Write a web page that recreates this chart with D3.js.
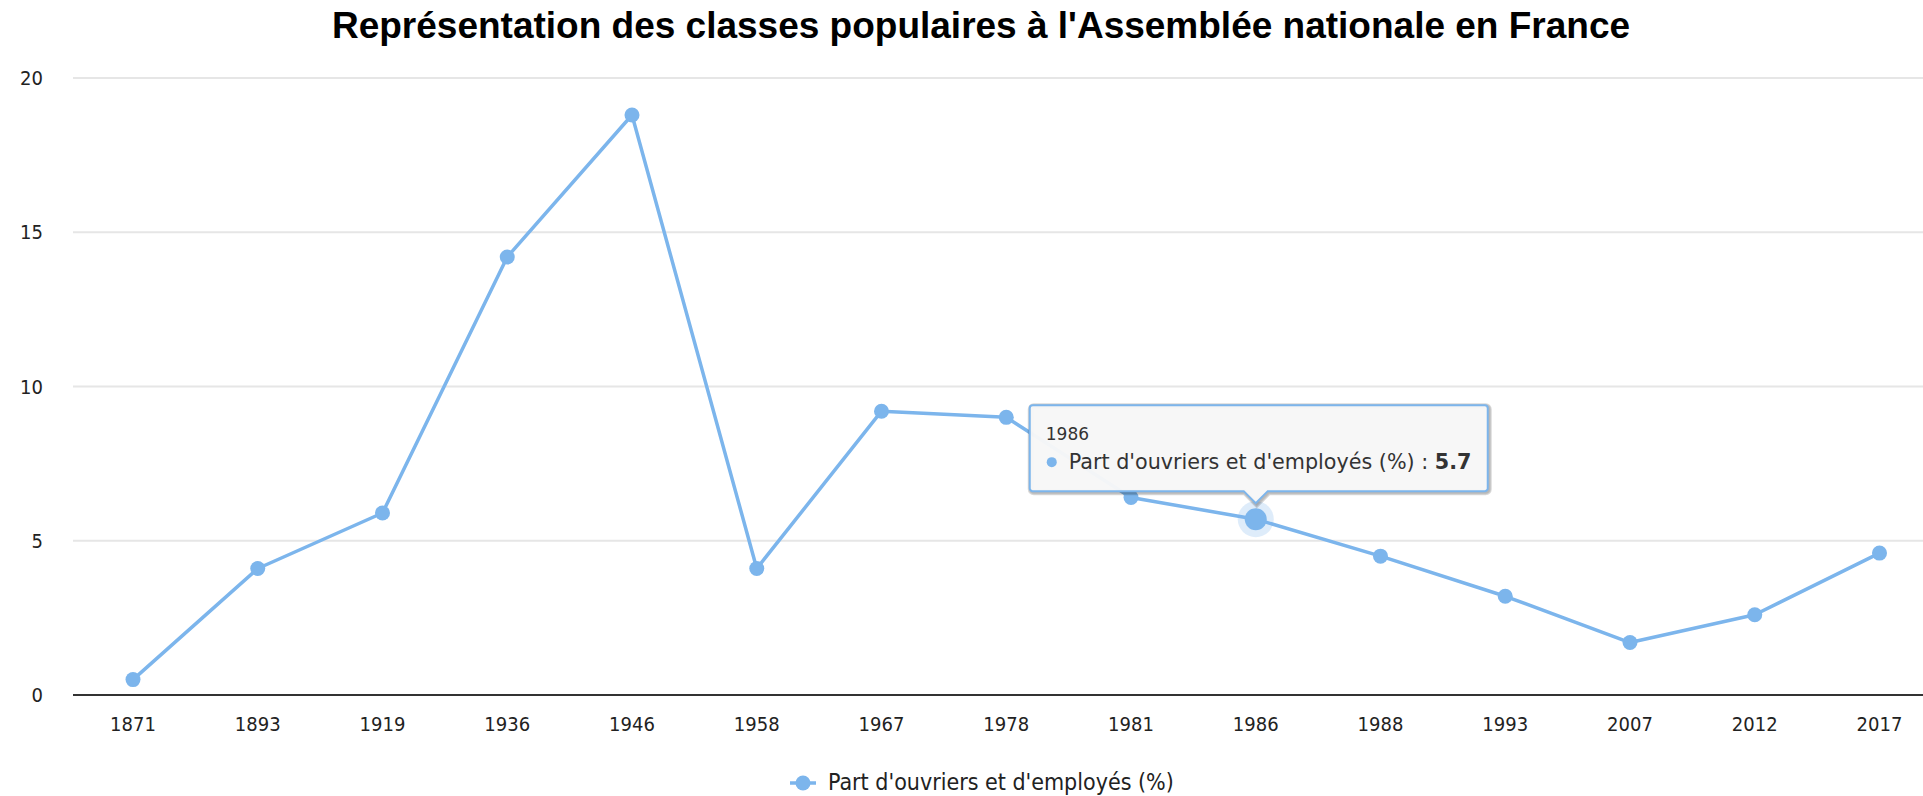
<!DOCTYPE html>
<html>
<head>
<meta charset="utf-8">
<script src="https://cdn.jsdelivr.net/npm/d3@7"></script>
<style>
  html, body { margin: 0; padding: 0; background: #fff; }
  svg { display: block; }
  .tick-label { font-family: "DejaVu Sans Condensed", "DejaVu Sans", sans-serif; fill: #222; }
</style>
</head>
<body>
<svg id="chart" width="1923" height="796"></svg>
<script>
"use strict";

var title = "Représentation des classes populaires à l'Assemblée nationale en France";
var seriesName = "Part d'ouvriers et d'employés (%)";
var years = ["1871","1893","1919","1936","1946","1958","1967","1978","1981","1986","1988","1993","2007","2012","2017"];
var shares = [0.5, 4.1, 5.9, 14.2, 18.8, 4.1, 9.2, 9.0, 6.4, 5.7, 4.5, 3.2, 1.7, 2.6, 4.6];
var yTicks = [0, 5, 10, 15, 20];
var hoverYear = "1986";

var W = 1923, H = 796;
var color = "#7cb5ec";
var plotLeft = 73, plotBottom = 695, plotTop = 78;

var svg = d3.select('#chart');

var x = d3.scalePoint()
	.domain(years)
	.range([133, 1879.5]);
var y = d3.scaleLinear()
	.domain([0, 20])
	.range([plotBottom, plotTop]);

// title
svg.append('text')
	.attr('x', 981)
	.attr('y', 38)
	.attr('text-anchor', 'middle')
	.style('font-family', '"Liberation Sans", Arial, sans-serif')
	.style('font-weight', 'bold')
	.style('font-size', '37px')
	.attr('fill', '#000')
	.text(title);

// grid
svg.append('g').selectAll('line')
	.data(yTicks.filter(function(d){ return d !== 0; }))
	.enter().append('line')
	.attr('x1', plotLeft).attr('x2', W)
	.attr('y1', function(d){ return y(d); })
	.attr('y2', function(d){ return y(d); })
	.attr('stroke', '#e6e6e6')
	.attr('stroke-width', 2);

// y labels
svg.append('g').selectAll('text')
	.data(yTicks)
	.enter().append('text')
	.attr('class', 'tick-label')
	.attr('x', 43)
	.attr('y', function(d){ return y(d) + 7; })
	.attr('text-anchor', 'end')
	.style('font-size', '20px')
	.text(function(d){ return d; });

// x axis line
svg.append('line')
	.attr('x1', plotLeft).attr('x2', W)
	.attr('y1', plotBottom).attr('y2', plotBottom)
	.attr('stroke', '#333')
	.attr('stroke-width', 2);

// x labels
svg.append('g').selectAll('text')
	.data(years)
	.enter().append('text')
	.attr('class', 'tick-label')
	.attr('x', function(d){ return x(d); })
	.attr('y', 731)
	.attr('text-anchor', 'middle')
	.style('font-size', '20px')
	.text(function(d){ return d; });

// series
var pts = years.map(function(d, i){ return {year: d, v: shares[i]}; });

svg.append('path')
	.datum(pts)
	.attr('fill', 'none')
	.attr('stroke', color)
	.attr('stroke-width', 3.5)
	.attr('stroke-linejoin', 'round')
	.attr('d', d3.line()
		.x(function(d){ return x(d.year); })
		.y(function(d){ return y(d.v); }));

svg.append('g').selectAll('circle')
	.data(pts)
	.enter().append('circle')
	.attr('cx', function(d){ return x(d.year); })
	.attr('cy', function(d){ return y(d.v); })
	.attr('r', 7.5)
	.attr('fill', color);

// hovered point
var hp = pts.filter(function(d){ return d.year === hoverYear; })[0];
var hx = x(hp.year), hy = y(hp.v);
svg.append('circle')
	.attr('cx', hx).attr('cy', hy)
	.attr('r', 18)
	.attr('fill', color)
	.attr('opacity', 0.25);
svg.append('circle')
	.attr('cx', hx).attr('cy', hy)
	.attr('r', 11)
	.attr('fill', color);

// tooltip
var tipY = hy - 16;
var bx0 = hx - 226, bx1 = hx + 232, by0 = hy - 114, by1 = tipY - 12;
var rr = 3;
function tipPath(dx, dy) {
	var p = d3.path();
	p.moveTo(bx0 + rr + dx, by0 + dy);
	p.lineTo(bx1 - rr + dx, by0 + dy);
	p.arcTo(bx1 + dx, by0 + dy, bx1 + dx, by0 + rr + dy, rr);
	p.lineTo(bx1 + dx, by1 - rr + dy);
	p.arcTo(bx1 + dx, by1 + dy, bx1 - rr + dx, by1 + dy, rr);
	p.lineTo(hx + 12 + dx, by1 + dy);
	p.lineTo(hx + dx, tipY + dy);
	p.lineTo(hx - 12 + dx, by1 + dy);
	p.lineTo(bx0 + rr + dx, by1 + dy);
	p.arcTo(bx0 + dx, by1 + dy, bx0 + dx, by1 - rr + dy, rr);
	p.lineTo(bx0 + dx, by0 + rr + dy);
	p.arcTo(bx0 + dx, by0 + dy, bx0 + rr + dx, by0 + dy, rr);
	p.closePath();
	return p.toString();
}
var tip = svg.append('g');
[3, 2, 1].forEach(function(k){
	tip.append('path')
		.attr('d', tipPath(1, 1))
		.attr('fill', 'none')
		.attr('stroke', '#000')
		.attr('stroke-opacity', 0.05 * k)
		.attr('stroke-width', k * 2);
});
tip.append('path')
	.attr('d', tipPath(0, 0))
	.attr('fill', '#f7f7f7')
	.attr('fill-opacity', 0.97)
	.attr('stroke', color)
	.attr('stroke-width', 2);

tip.append('text')
	.attr('x', bx0 + 16)
	.attr('y', by0 + 35)
	.style('font-family', '"DejaVu Sans", sans-serif')
	.style('font-size', '17px')
	.attr('fill', '#333')
	.text(hp.year);
tip.append('circle')
	.attr('cx', bx0 + 22)
	.attr('cy', by0 + 57)
	.attr('r', 5)
	.attr('fill', color);
var line2 = tip.append('text')
	.attr('x', bx0 + 39)
	.attr('y', by0 + 64)
	.style('font-family', '"DejaVu Sans", sans-serif')
	.style('font-size', '20.7px')
	.attr('fill', '#333');
line2.append('tspan').text(seriesName + ' : ');
line2.append('tspan').style('font-weight', 'bold').text(hp.v.toFixed(1));

// legend
var leg = svg.append('g');
leg.append('line')
	.attr('x1', 790).attr('x2', 816)
	.attr('y1', 783).attr('y2', 783)
	.attr('stroke', color)
	.attr('stroke-width', 3.5);
leg.append('circle')
	.attr('cx', 803).attr('cy', 783)
	.attr('r', 7.5)
	.attr('fill', color);
leg.append('text')
	.attr('x', 828)
	.attr('y', 790)
	.attr('class', 'tick-label')
	.style('font-size', '23px')
	.attr('fill', '#333')
	.text(seriesName);
</script>
</body>
</html>
